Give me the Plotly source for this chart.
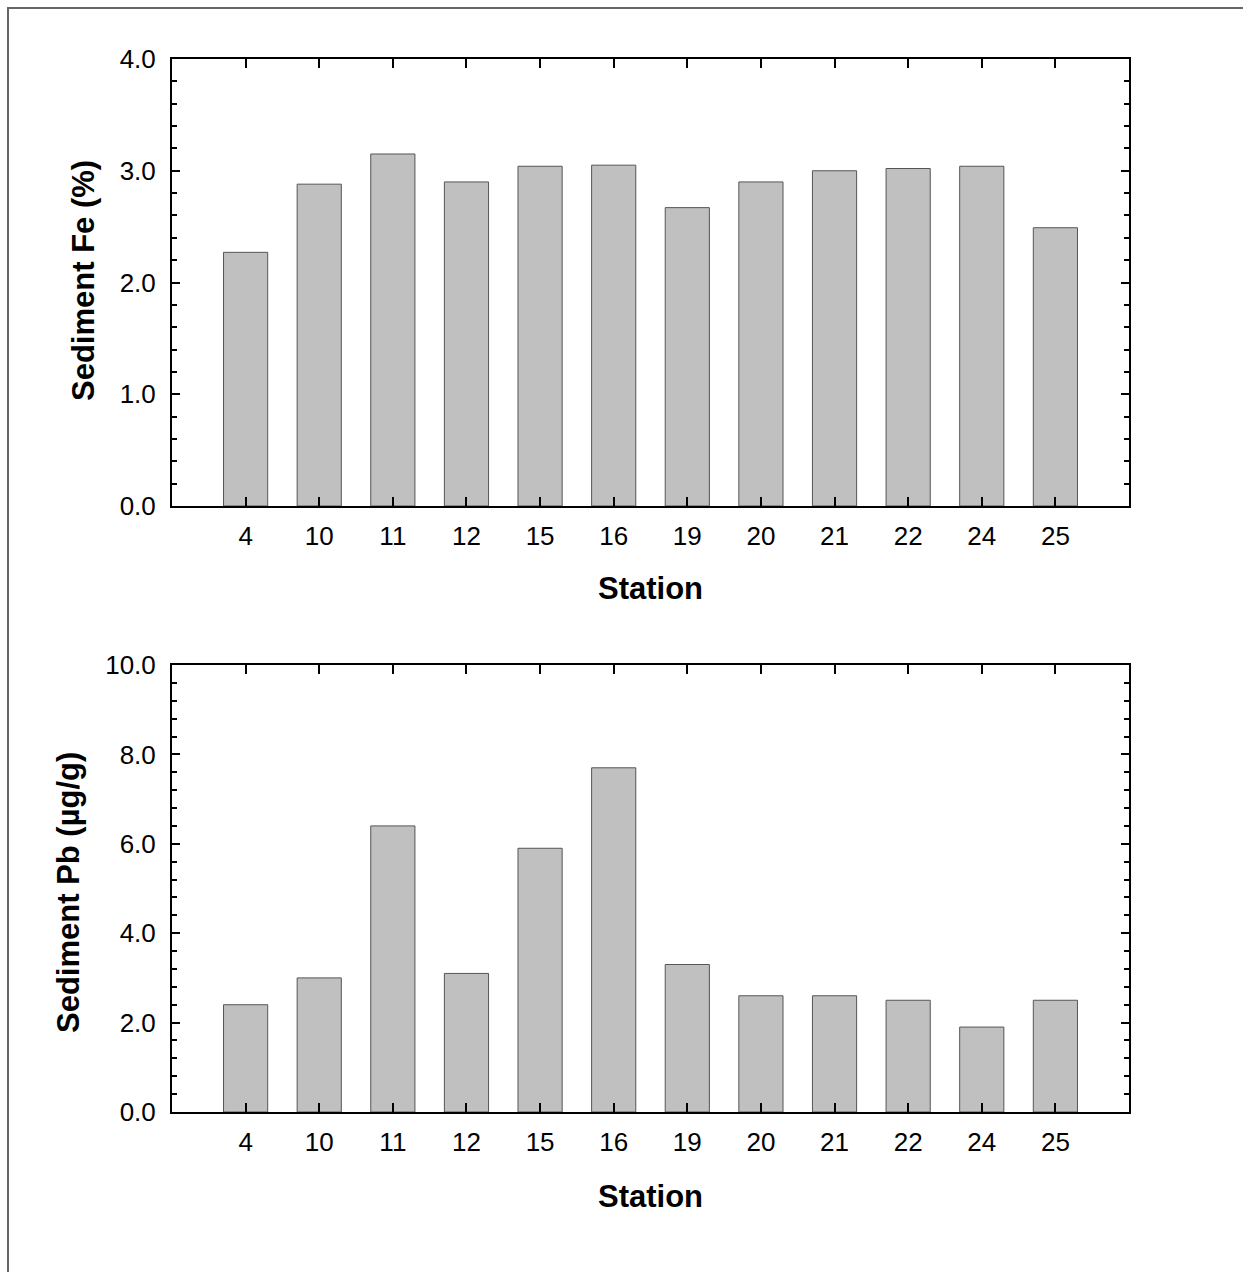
import plotly.graph_objects as go

stations = ["4", "10", "11", "12", "15", "16", "19", "20", "21", "22", "24", "25"]
fe_pct = [2.27, 2.88, 3.15, 2.90, 3.04, 3.05, 2.67, 2.90, 3.00, 3.02, 3.04, 2.49]
pb_ugg = [2.4, 3.0, 6.4, 3.1, 5.9, 7.7, 3.3, 2.6, 2.6, 2.5, 1.9, 2.5]

W, H = 1243, 1272
FONT = "Liberation Sans, Arial, sans-serif"

def px_x(p):
    return p / W

def px_y(p):
    return 1 - p / H

fig = go.Figure()
bar_style = dict(marker=dict(color="#c0c0c0", line=dict(color="#555555", width=1)),
                 width=0.6, showlegend=False, hoverinfo="x+y")
fig.add_trace(go.Bar(x=stations, y=fe_pct, xaxis="x", yaxis="y", **bar_style))
fig.add_trace(go.Bar(x=stations, y=pb_ugg, xaxis="x2", yaxis="y2", **bar_style))

xdom = [px_x(172), px_x(1129)]
xaxis_common = dict(
    type="category", range=[-1, 12], domain=xdom, automargin=False,
    showline=True, linecolor="black", linewidth=2, mirror="allticks",
    ticks="inside", ticklen=9, tickwidth=1.5, tickcolor="black",
    tickfont=dict(family=FONT, size=26, color="black"),
    ticklabelstandoff=6, showgrid=False, zeroline=False,
)
yaxis_common = dict(
    automargin=False,
    showline=True, linecolor="black", linewidth=2, mirror="allticks",
    ticks="inside", ticklen=8, tickwidth=1.5, tickcolor="black",
    tickfont=dict(family=FONT, size=26, color="black"),
    ticklabelstandoff=9, showgrid=False, zeroline=False, tickformat=".1f",
)

fig.update_layout(
    template="none",
    width=W, height=H, margin=dict(l=0, r=0, t=0, b=0, pad=0), autosize=False,
    paper_bgcolor="white", plot_bgcolor="white",
    bargap=0.4,
    xaxis=dict(anchor="y", **xaxis_common),
    xaxis2=dict(anchor="y2", **xaxis_common),
    yaxis=dict(anchor="x", domain=[px_y(506), px_y(59)], range=[0, 4], dtick=1,
               minor=dict(dtick=0.2, ticks="inside", ticklen=5, tickwidth=1.5, tickcolor="black"),
               **yaxis_common),
    yaxis2=dict(anchor="x2", domain=[px_y(1112), px_y(665)], range=[0, 10], dtick=2,
                minor=dict(dtick=0.4, ticks="inside", ticklen=5, tickwidth=1.5, tickcolor="black"),
                **yaxis_common),
)

title_font = dict(family=FONT, size=31, color="black")
ann = [
    dict(text="<b>Station</b>", x=px_x(650), y=px_y(588)),
    dict(text="<b>Station</b>", x=px_x(650), y=px_y(1196)),
    dict(text="<b>Sediment Fe (%)</b>", x=px_x(84), y=px_y(280), textangle=-90),
    dict(text="<b>Sediment Pb (µg/g)</b>", x=px_x(68), y=px_y(893), textangle=-90),
]
for a in ann:
    fig.add_annotation(xref="paper", yref="paper", showarrow=False,
                       xanchor="center", yanchor="middle", font=title_font, **a)

fig.add_shape(type="rect", xref="paper", yref="paper",
              x0=px_x(8), x1=1.05, y0=-0.05, y1=px_y(8),
              line=dict(color="#666666", width=2), fillcolor="rgba(0,0,0,0)")

fig.write_html("out.html", config={"displayModeBar": False},
               post_script="document.body.style.margin='0';document.body.style.overflow='hidden';")
